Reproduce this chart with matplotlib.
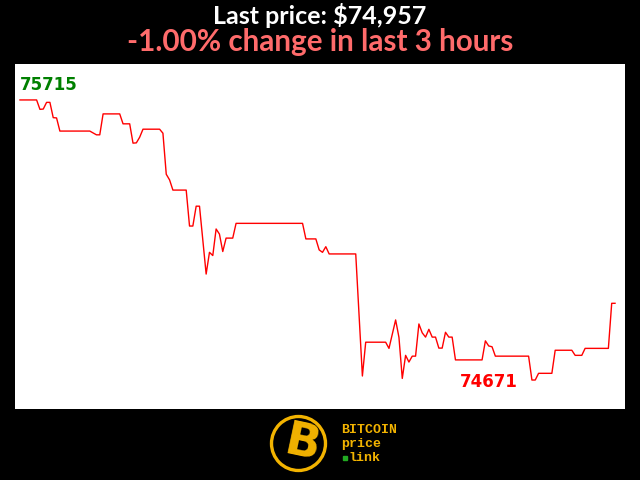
import numpy as np
import matplotlib
matplotlib.use('Agg')
import matplotlib.pyplot as plt
from matplotlib.patches import Circle

# price over the last 3 hours, one sample per minute (vertices of the trace)
minutes = [0, 5, 6, 7, 8, 9, 10, 11, 12, 21, 23, 24, 25, 30, 31, 33, 34, 35, 36, 37,
           42, 43, 44, 45, 46, 50, 51, 52, 53, 54, 56, 57, 58, 59, 60, 61, 62, 64, 65, 85,
           86, 89, 90, 91, 92, 93, 101, 103, 104, 110, 111, 113, 114, 115, 116, 117, 118, 119, 120, 121,
           122, 123, 124, 125, 126, 127, 128, 129, 130, 131, 139, 140, 141, 142, 143, 153, 154, 155, 156, 160,
           161, 166, 167, 169, 170, 177, 178, 179]
prices = [75715, 75715, 75680, 75681, 75706, 75706, 75649, 75648, 75599, 75599, 75585, 75585, 75663, 75663, 75626, 75626, 75554, 75555, 75576, 75606,
          75606, 75591, 75438, 75417, 75379, 75379, 75245, 75245, 75319, 75319, 75066, 75147, 75135, 75234, 75215, 75150, 75200, 75200, 75255, 75255,
          75197, 75197, 75156, 75147, 75168, 75141, 75141, 74686, 74812, 74812, 74789, 74895, 74830, 74677, 74763, 74738, 74760, 74760, 74880, 74847,
          74831, 74860, 74831, 74831, 74790, 74790, 74849, 74831, 74831, 74746, 74746, 74817, 74798, 74795, 74760, 74760, 74671, 74671, 74696, 74696,
          74782, 74782, 74763, 74763, 74789, 74789, 74957, 74957]

title_line1 = "Last price: $74,957"
title_line2 = "-1.00% change in last 3 hours"
gold = '#f2b300'

minutes = np.array(minutes)
prices = np.array(prices)
hi, lo = prices.max(), prices.min()
i_hi, i_lo = minutes[prices.argmax()], minutes[prices.argmin()]

fig = plt.figure(figsize = (6.4, 4.8), dpi = 100)
fig.patch.set_facecolor('black')

ax = fig.add_axes([15 / 640, 1 - 409 / 480, 610 / 640, 345 / 480])
ax.set_facecolor('white')
ax.plot(minutes, prices, color = 'red', linewidth = 1.0)
ax.set_xlim(-1.5, 182)
ax.set_ylim(lo - 108, hi + 134)
ax.set_xticks([])
ax.set_yticks([])
for s in ax.spines.values():
    s.set_visible(False)

# max / min labels
ax.annotate(str(hi), xy = (i_hi, hi), xytext = (0, 7), textcoords = 'offset points',
            ha = 'left', va = 'baseline', color = 'green', fontsize = 12, fontweight = 'bold')
ax.annotate(str(lo), xy = (i_lo, lo), xytext = (-10.5, -5.3), textcoords = 'offset points',
            ha = 'right', va = 'baseline', color = 'red', fontsize = 12, fontweight = 'bold')

# header
fig.text(0.5, 1 - 24 / 480, title_line1, ha = 'center', va = 'baseline', color = 'white',
         fontsize = 18, fontweight = 'bold', family = 'Lato')
fig.text(0.5, 1 - 51 / 480, title_line2, ha = 'center', va = 'baseline', color = '#ff6b6b',
         fontsize = 21.3, fontweight = 'bold', family = 'Lato')

# logo (pixel coordinates inside a small axes)
lg = fig.add_axes([260 / 640, 1 - 478 / 480, 150 / 640, 68 / 480])
lg.set_xlim(260, 410)
lg.set_ylim(478, 410)
lg.axis('off')
lg.add_patch(Circle((298.5, 443.5), 27, fill = False, edgecolor = gold, linewidth = 2.4))
lg.text(302, 444, 'B', ha = 'center', va = 'center', color = gold, fontsize = 33,
        fontweight = 'bold', rotation = -12)
lg.text(341, 433, 'BITCOIN', ha = 'left', va = 'baseline', color = gold, fontsize = 9.5,
        fontweight = 'bold', family = 'Liberation Mono')
lg.text(341, 447, 'price', ha = 'left', va = 'baseline', color = gold, fontsize = 9.5,
        fontweight = 'bold', family = 'Liberation Mono')
lg.text(349, 461, 'link', ha = 'left', va = 'baseline', color = gold, fontsize = 9.5,
        fontweight = 'bold', family = 'Liberation Mono')
lg.plot([345], [458], marker = 's', markersize = 2.5, color = '#22aa22')

fig.savefig('out.png', dpi = 100, facecolor = fig.get_facecolor())
